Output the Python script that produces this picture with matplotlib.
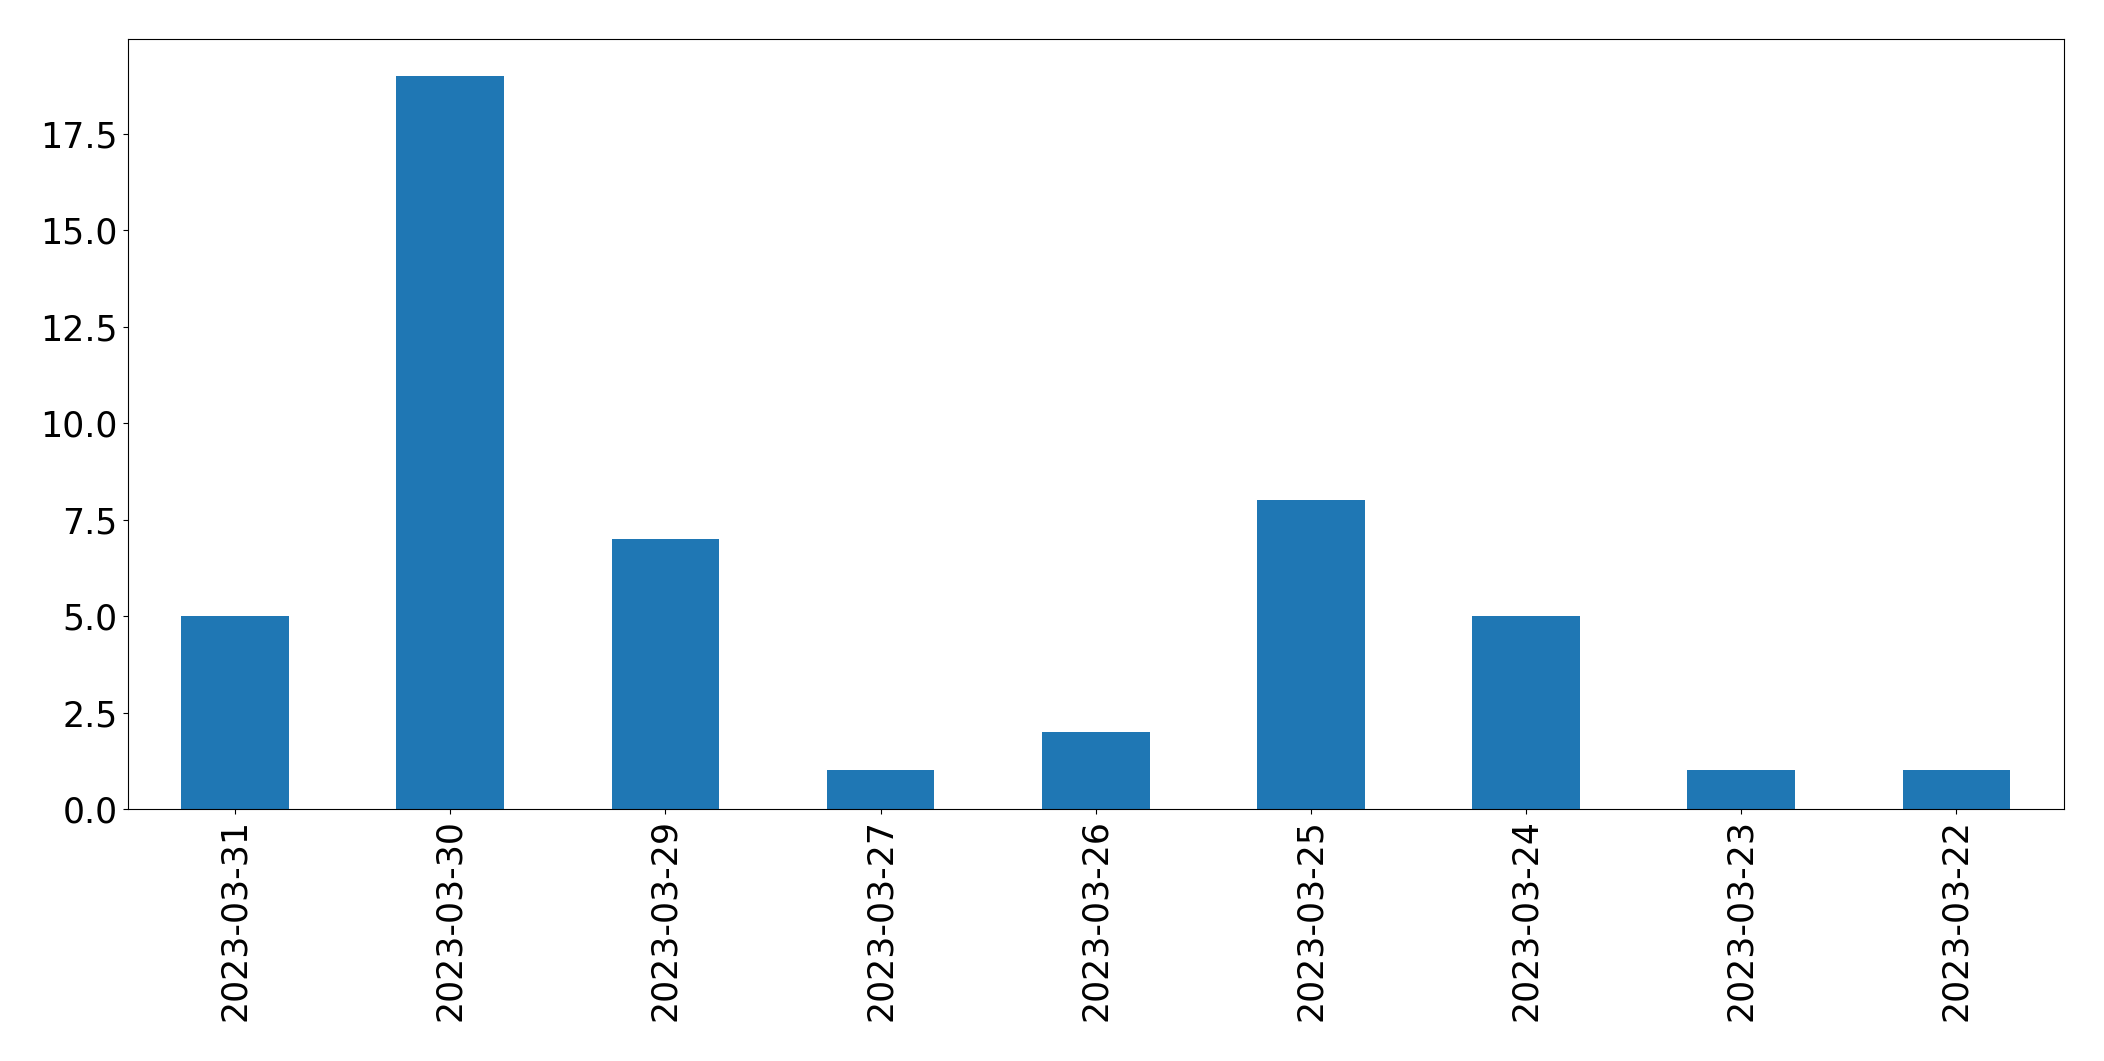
import matplotlib
matplotlib.use("Agg")
import matplotlib.pyplot as plt

dates = ["2023-03-31", "2023-03-30", "2023-03-29", "2023-03-27", "2023-03-26",
         "2023-03-25", "2023-03-24", "2023-03-23", "2023-03-22"]
counts = [5, 19, 7, 1, 2, 8, 5, 1, 1]

fig = plt.figure(figsize=(21.04, 10.61), dpi=100)
ax = fig.add_axes([0.0606, 0.2375, 0.9204, 0.7255])
x = list(range(len(dates)))
ax.bar(x, counts, width=0.5, color="#1f77b4")
ax.set_xticks(x)
ax.set_xticklabels(dates, rotation=90)
ax.set_xlim(-0.5, len(dates) - 0.5)
ax.tick_params(labelsize=25)
fig.savefig("out.png", dpi=100)
